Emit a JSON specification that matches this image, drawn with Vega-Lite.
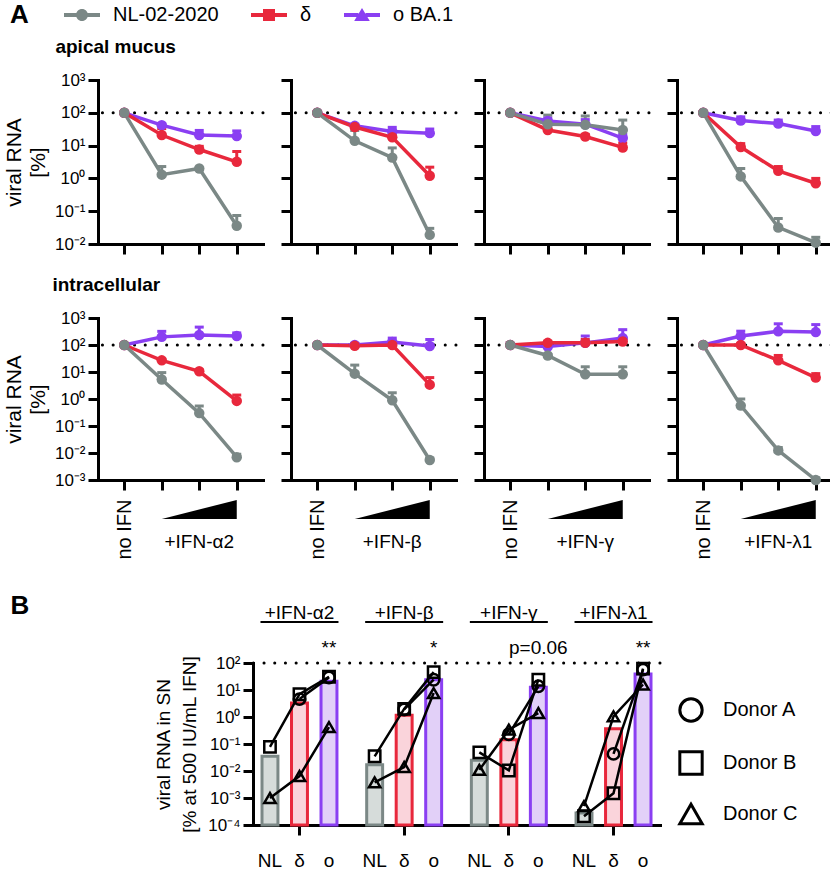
{
"$schema":"https://vega.github.io/schema/vega-lite/v6.json",
"padding":{"left":3,"top":5,"right":0,"bottom":0},
"config":{"font":"Liberation Sans","view":{"stroke":null},
"axis":{"grid":false,"domainColor":"black","domainWidth":3,"domainCap":"square","tickColor":"black","tickWidth":3,"tickSize":10,"labelColor":"black","labelFontSize":17,"labelPadding":3,"titleColor":"black","titleFontWeight":"normal","titleFontSize":21,"titleLineHeight":24,"titlePadding":6},
"legend":{"labelColor":"black","titleColor":"black","padding":0},
"title":{"color":"black"},"text":{"color":"black"}},
"datasets":{
"lines":[
{"c":"ap","i":"α2","d":0,"v":"o BA.1","m":100,"hi":100},{"c":"ap","i":"α2","d":1,"v":"o BA.1","m":42,"hi":46},{"c":"ap","i":"α2","d":2,"v":"o BA.1","m":21,"hi":29},{"c":"ap","i":"α2","d":3,"v":"o BA.1","m":19.5,"hi":28},
{"c":"ap","i":"α2","d":0,"v":"δ","m":100,"hi":100},{"c":"ap","i":"α2","d":1,"v":"δ","m":21,"hi":33},{"c":"ap","i":"α2","d":2,"v":"δ","m":7.6,"hi":9.5},{"c":"ap","i":"α2","d":3,"v":"δ","m":3.2,"hi":6.6},
{"c":"ap","i":"α2","d":0,"v":"NL-02-2020","m":100,"hi":100},{"c":"ap","i":"α2","d":1,"v":"NL-02-2020","m":1.3,"hi":2.3},{"c":"ap","i":"α2","d":2,"v":"NL-02-2020","m":2.0,"hi":2.0},{"c":"ap","i":"α2","d":3,"v":"NL-02-2020","m":0.036,"hi":0.074},
{"c":"ap","i":"β","d":0,"v":"o BA.1","m":100,"hi":100},{"c":"ap","i":"β","d":1,"v":"o BA.1","m":40,"hi":44},{"c":"ap","i":"β","d":2,"v":"o BA.1","m":27,"hi":36},{"c":"ap","i":"β","d":3,"v":"o BA.1","m":24,"hi":32},
{"c":"ap","i":"β","d":0,"v":"δ","m":100,"hi":100},{"c":"ap","i":"β","d":1,"v":"δ","m":37,"hi":40},{"c":"ap","i":"β","d":2,"v":"δ","m":18,"hi":21},{"c":"ap","i":"β","d":3,"v":"δ","m":1.2,"hi":2.2},
{"c":"ap","i":"β","d":0,"v":"NL-02-2020","m":100,"hi":100},{"c":"ap","i":"β","d":1,"v":"NL-02-2020","m":14,"hi":29},{"c":"ap","i":"β","d":2,"v":"NL-02-2020","m":4.3,"hi":8.5},{"c":"ap","i":"β","d":3,"v":"NL-02-2020","m":0.019,"hi":0.03},
{"c":"ap","i":"γ","d":0,"v":"o BA.1","m":100,"hi":100},{"c":"ap","i":"γ","d":1,"v":"o BA.1","m":56,"hi":70},{"c":"ap","i":"γ","d":2,"v":"o BA.1","m":45,"hi":62},{"c":"ap","i":"γ","d":3,"v":"o BA.1","m":17,"hi":22},
{"c":"ap","i":"γ","d":0,"v":"δ","m":100,"hi":100},{"c":"ap","i":"γ","d":1,"v":"δ","m":30,"hi":34},{"c":"ap","i":"γ","d":2,"v":"δ","m":19,"hi":22},{"c":"ap","i":"γ","d":3,"v":"δ","m":8.8,"hi":12},
{"c":"ap","i":"γ","d":0,"v":"NL-02-2020","m":100,"hi":100},{"c":"ap","i":"γ","d":1,"v":"NL-02-2020","m":45,"hi":85},{"c":"ap","i":"γ","d":2,"v":"NL-02-2020","m":43,"hi":80},{"c":"ap","i":"γ","d":3,"v":"NL-02-2020","m":30,"hi":60},
{"c":"ap","i":"λ1","d":0,"v":"o BA.1","m":100,"hi":100},{"c":"ap","i":"λ1","d":1,"v":"o BA.1","m":58,"hi":75},{"c":"ap","i":"λ1","d":2,"v":"o BA.1","m":47,"hi":60},{"c":"ap","i":"λ1","d":3,"v":"o BA.1","m":28,"hi":38},
{"c":"ap","i":"λ1","d":0,"v":"δ","m":100,"hi":100},{"c":"ap","i":"λ1","d":1,"v":"δ","m":9,"hi":11.5},{"c":"ap","i":"λ1","d":2,"v":"δ","m":1.7,"hi":2.3},{"c":"ap","i":"λ1","d":3,"v":"δ","m":0.71,"hi":1.0},
{"c":"ap","i":"λ1","d":0,"v":"NL-02-2020","m":100,"hi":100},{"c":"ap","i":"λ1","d":1,"v":"NL-02-2020","m":1.15,"hi":2.0},{"c":"ap","i":"λ1","d":2,"v":"NL-02-2020","m":0.032,"hi":0.06},{"c":"ap","i":"λ1","d":3,"v":"NL-02-2020","m":0.011,"hi":0.016},
{"c":"in","i":"α2","d":0,"v":"o BA.1","m":100,"hi":100},{"c":"in","i":"α2","d":1,"v":"o BA.1","m":200,"hi":320},{"c":"in","i":"α2","d":2,"v":"o BA.1","m":235,"hi":460},{"c":"in","i":"α2","d":3,"v":"o BA.1","m":215,"hi":280},
{"c":"in","i":"α2","d":0,"v":"δ","m":100,"hi":100},{"c":"in","i":"α2","d":1,"v":"δ","m":27,"hi":30},{"c":"in","i":"α2","d":2,"v":"δ","m":10.6,"hi":12},{"c":"in","i":"α2","d":3,"v":"δ","m":0.85,"hi":1.4},
{"c":"in","i":"α2","d":0,"v":"NL-02-2020","m":100,"hi":100},{"c":"in","i":"α2","d":1,"v":"NL-02-2020","m":5.3,"hi":9.5},{"c":"in","i":"α2","d":2,"v":"NL-02-2020","m":0.3,"hi":0.55},{"c":"in","i":"α2","d":3,"v":"NL-02-2020","m":0.007,"hi":0.009},
{"c":"in","i":"β","d":0,"v":"o BA.1","m":100,"hi":100},{"c":"in","i":"β","d":1,"v":"o BA.1","m":100,"hi":115},{"c":"in","i":"β","d":2,"v":"o BA.1","m":130,"hi":180},{"c":"in","i":"β","d":3,"v":"o BA.1","m":92,"hi":160},
{"c":"in","i":"β","d":0,"v":"δ","m":100,"hi":100},{"c":"in","i":"β","d":1,"v":"δ","m":93,"hi":110},{"c":"in","i":"β","d":2,"v":"δ","m":100,"hi":130},{"c":"in","i":"β","d":3,"v":"δ","m":3.4,"hi":6.2},
{"c":"in","i":"β","d":0,"v":"NL-02-2020","m":100,"hi":100},{"c":"in","i":"β","d":1,"v":"NL-02-2020","m":8.7,"hi":18},{"c":"in","i":"β","d":2,"v":"NL-02-2020","m":0.9,"hi":1.7},{"c":"in","i":"β","d":3,"v":"NL-02-2020","m":0.0055,"hi":0.0065},
{"c":"in","i":"γ","d":0,"v":"o BA.1","m":100,"hi":100},{"c":"in","i":"γ","d":1,"v":"o BA.1","m":88,"hi":100},{"c":"in","i":"γ","d":2,"v":"o BA.1","m":120,"hi":215},{"c":"in","i":"γ","d":3,"v":"o BA.1","m":180,"hi":370},
{"c":"in","i":"γ","d":0,"v":"δ","m":100,"hi":100},{"c":"in","i":"γ","d":1,"v":"δ","m":120,"hi":135},{"c":"in","i":"γ","d":2,"v":"δ","m":122,"hi":160},{"c":"in","i":"γ","d":3,"v":"δ","m":135,"hi":170},
{"c":"in","i":"γ","d":0,"v":"NL-02-2020","m":100,"hi":100},{"c":"in","i":"γ","d":1,"v":"NL-02-2020","m":41,"hi":45},{"c":"in","i":"γ","d":2,"v":"NL-02-2020","m":8.2,"hi":15.6},{"c":"in","i":"γ","d":3,"v":"NL-02-2020","m":8.2,"hi":15.6},
{"c":"in","i":"λ1","d":0,"v":"o BA.1","m":100,"hi":100},{"c":"in","i":"λ1","d":1,"v":"o BA.1","m":215,"hi":325},{"c":"in","i":"λ1","d":2,"v":"o BA.1","m":320,"hi":610},{"c":"in","i":"λ1","d":3,"v":"o BA.1","m":300,"hi":570},
{"c":"in","i":"λ1","d":0,"v":"δ","m":100,"hi":100},{"c":"in","i":"λ1","d":1,"v":"δ","m":100,"hi":115},{"c":"in","i":"λ1","d":2,"v":"δ","m":27,"hi":41},{"c":"in","i":"λ1","d":3,"v":"δ","m":6.2,"hi":8.7},
{"c":"in","i":"λ1","d":0,"v":"NL-02-2020","m":100,"hi":100},{"c":"in","i":"λ1","d":1,"v":"NL-02-2020","m":0.57,"hi":1.0},{"c":"in","i":"λ1","d":2,"v":"NL-02-2020","m":0.0125,"hi":0.016},{"c":"in","i":"λ1","d":3,"v":"NL-02-2020","m":0.001,"hi":0.0012}
],
"bars":[
{"ifn":"α2","variant":"NL","mean":0.035},{"ifn":"α2","variant":"δ","mean":3.3},{"ifn":"α2","variant":"o","mean":21},
{"ifn":"β","variant":"NL","mean":0.017},{"ifn":"β","variant":"δ","mean":1.15},{"ifn":"β","variant":"o","mean":24},
{"ifn":"γ","variant":"NL","mean":0.025},{"ifn":"γ","variant":"δ","mean":0.145},{"ifn":"γ","variant":"o","mean":12.6},
{"ifn":"λ1","variant":"NL","mean":0.00028},{"ifn":"λ1","variant":"δ","mean":0.37},{"ifn":"λ1","variant":"o","mean":39}
],
"groups":[
{"ifn":"α2","header":"+IFN-α2","sig":"**","at":"o"},{"ifn":"β","header":"+IFN-β","sig":"*","at":"o"},
{"ifn":"γ","header":"+IFN-γ","sig":"p=0.06","at":"o"},{"ifn":"λ1","header":"+IFN-λ1","sig":"**","at":"o"}
],
"donors":[
{"ifn":"α2","donor":"Donor A","variant":"δ","v":4.6},{"ifn":"α2","donor":"Donor A","variant":"o","v":29},
{"ifn":"α2","donor":"Donor B","variant":"NL","v":0.078},{"ifn":"α2","donor":"Donor B","variant":"δ","v":7},{"ifn":"α2","donor":"Donor B","variant":"o","v":31},
{"ifn":"α2","donor":"Donor C","variant":"NL","v":0.001},{"ifn":"α2","donor":"Donor C","variant":"δ","v":0.0065},{"ifn":"α2","donor":"Donor C","variant":"o","v":0.42},
{"ifn":"β","donor":"Donor A","variant":"δ","v":1.9},{"ifn":"β","donor":"Donor A","variant":"o","v":24},
{"ifn":"β","donor":"Donor B","variant":"NL","v":0.035},{"ifn":"β","donor":"Donor B","variant":"δ","v":2.0},{"ifn":"β","donor":"Donor B","variant":"o","v":46},
{"ifn":"β","donor":"Donor C","variant":"NL","v":0.0038},{"ifn":"β","donor":"Donor C","variant":"δ","v":0.014},{"ifn":"β","donor":"Donor C","variant":"o","v":7.7},
{"ifn":"γ","donor":"Donor A","variant":"δ","v":0.23},{"ifn":"γ","donor":"Donor A","variant":"o","v":13.7},
{"ifn":"γ","donor":"Donor B","variant":"NL","v":0.049},{"ifn":"γ","donor":"Donor B","variant":"δ","v":0.0105},{"ifn":"γ","donor":"Donor B","variant":"o","v":24},
{"ifn":"γ","donor":"Donor C","variant":"NL","v":0.011},{"ifn":"γ","donor":"Donor C","variant":"δ","v":0.34},{"ifn":"γ","donor":"Donor C","variant":"o","v":1.4},
{"ifn":"λ1","donor":"Donor A","variant":"δ","v":0.043},{"ifn":"λ1","donor":"Donor A","variant":"o","v":57},
{"ifn":"λ1","donor":"Donor B","variant":"NL","v":0.00021},{"ifn":"λ1","donor":"Donor B","variant":"δ","v":0.0015},{"ifn":"λ1","donor":"Donor B","variant":"o","v":62},
{"ifn":"λ1","donor":"Donor C","variant":"NL","v":0.0005},{"ifn":"λ1","donor":"Donor C","variant":"δ","v":1.05},{"ifn":"λ1","donor":"Donor C","variant":"o","v":16}
]
},
"resolve":{"scale":{"color":"independent","shape":"independent","fill":"independent","stroke":"independent"}},
"spacing":32,
"vconcat":[
{"spacing":10,"resolve":{"scale":{"color":"independent","shape":"independent"}},"vconcat":[
{"width":700,"height":20,"data":{"values":[{"v":"NL-02-2020"},{"v":"δ"},{"v":"o BA.1"}]},"mark":{"type":"point","filled":true,"opacity":0},
"encoding":{
"color":{"field":"v","type":"nominal","scale":{"domain":["NL-02-2020","δ","o BA.1"],"range":["#7b8886","#e8283c","#8a3ff2"]},"legend":{"title":"A","orient":"none","legendX":-88,"legendY":0,"direction":"horizontal","titleOrient":"left","titleFontSize":26,"titleFontWeight":"bold","titlePadding":43,"labelFontSize":20,"symbolSize":144,"labelOffset":21,"columnPadding":32,"symbolOpacity":1,"symbolStrokeWidth":0}},
"shape":{"field":"v","type":"nominal","scale":{"domain":["NL-02-2020","δ","o BA.1"],"range":["M-3,-0.33H-0.9V0.33H-3Z M0.9,-0.33H3V0.33H0.9Z M1,0A1,1,0,1,1,-1,0A1,1,0,1,1,1,0Z","M-3,-0.33H-1V0.33H-3Z M1,-0.33H3V0.33H1Z M-1,-1H1V1H-1Z","M-3,-0.33H-0.6V0.33H-3Z M0.6,-0.33H3V0.33H0.6Z M0,-1.15L1.3,1H-1.3Z"]},"legend":{"title":"A","orient":"none","legendX":-88,"legendY":0,"direction":"horizontal","titleOrient":"left","titleFontSize":26,"titleFontWeight":"bold","titlePadding":43,"labelFontSize":20,"symbolSize":144,"labelOffset":21,"columnPadding":32,"symbolOpacity":1,"symbolStrokeWidth":0}}}},
{"spacing":20,"vconcat":[
{"title":{"text":"apical mucus","anchor":"start","fontSize":19,"fontWeight":"bold","offset":14,"dx":52},
"spacing":14,
"hconcat":[
{"width":165,"height":164,"layer":[
{"data":{"values":[{}]},"mark":{"type":"rule","strokeDash":[0.1,10.6],"strokeCap":"round","strokeWidth":3,"color":"black"},"encoding":{"y":{"datum":100,"type":"quantitative","scale":{"type":"log","domain":[0.01,1000]},"axis":{"values":[0.01,0.1,1,10,100,1000],"labelExpr":"'10' + (round(log(datum.value)/LN10) < 0 ? '⁻' : '') + ['⁰','¹','²','³','⁴'][abs(round(log(datum.value)/LN10))]","title":["viral RNA","[%]"]}}}},
{"data":{"name":"lines"},"transform":[{"filter":"datum.c=='ap' && datum.i=='α2'"}],
"encoding":{"x":{"field":"d","type":"quantitative","scale":{"domain":[-0.7,3.7],"nice":false,"zero":false},"axis":{"values":[0,1,2,3],"labels":false,"title":null}},"y":{"field":"m","type":"quantitative"}},
"layer":[
{"mark":{"type":"rule","strokeWidth":3},"encoding":{"y2":{"field":"hi"},"stroke":{"field":"v","type":"nominal","scale":{"domain":["NL-02-2020","δ","o BA.1"],"range":["#7b8886","#e8283c","#8a3ff2"]},"legend":null}}},
{"mark":{"type":"tick","orient":"horizontal","size":9,"thickness":3,"opacity":1},"encoding":{"y":{"field":"hi","type":"quantitative"},"fill":{"field":"v","type":"nominal","scale":{"domain":["NL-02-2020","δ","o BA.1"],"range":["#7b8886","#e8283c","#8a3ff2"]},"legend":null}}},
{"mark":{"type":"line","strokeWidth":3.5},"encoding":{"stroke":{"field":"v","type":"nominal","legend":null}}},
{"mark":{"type":"point","filled":true,"shape":"circle","size":110,"opacity":1},"encoding":{"fill":{"field":"v","type":"nominal","legend":null}}}
]}
]},
{"width":165,"height":164,"layer":[
{"data":{"values":[{}]},"mark":{"type":"rule","strokeDash":[0.1,10.6],"strokeCap":"round","strokeWidth":3,"color":"black"},"encoding":{"y":{"datum":100,"type":"quantitative","scale":{"type":"log","domain":[0.01,1000]},"axis":{"values":[0.01,0.1,1,10,100,1000],"labels":false,"title":null}}}},
{"data":{"name":"lines"},"transform":[{"filter":"datum.c=='ap' && datum.i=='β'"}],
"encoding":{"x":{"field":"d","type":"quantitative","scale":{"domain":[-0.7,3.7],"nice":false,"zero":false},"axis":{"values":[0,1,2,3],"labels":false,"title":null}},"y":{"field":"m","type":"quantitative"}},
"layer":[
{"mark":{"type":"rule","strokeWidth":3},"encoding":{"y2":{"field":"hi"},"stroke":{"field":"v","type":"nominal","legend":null}}},
{"mark":{"type":"tick","orient":"horizontal","size":9,"thickness":3,"opacity":1},"encoding":{"y":{"field":"hi","type":"quantitative"},"fill":{"field":"v","type":"nominal","legend":null}}},
{"mark":{"type":"line","strokeWidth":3.5},"encoding":{"stroke":{"field":"v","type":"nominal","legend":null}}},
{"mark":{"type":"point","filled":true,"shape":"circle","size":110,"opacity":1},"encoding":{"fill":{"field":"v","type":"nominal","legend":null}}}
]}
]},
{"width":165,"height":164,"layer":[
{"data":{"values":[{}]},"mark":{"type":"rule","strokeDash":[0.1,10.6],"strokeCap":"round","strokeWidth":3,"color":"black"},"encoding":{"y":{"datum":100,"type":"quantitative","scale":{"type":"log","domain":[0.01,1000]},"axis":{"values":[0.01,0.1,1,10,100,1000],"labels":false,"title":null}}}},
{"data":{"name":"lines"},"transform":[{"filter":"datum.c=='ap' && datum.i=='γ'"}],
"encoding":{"x":{"field":"d","type":"quantitative","scale":{"domain":[-0.7,3.7],"nice":false,"zero":false},"axis":{"values":[0,1,2,3],"labels":false,"title":null}},"y":{"field":"m","type":"quantitative"}},
"layer":[
{"mark":{"type":"rule","strokeWidth":3},"encoding":{"y2":{"field":"hi"},"stroke":{"field":"v","type":"nominal","legend":null}}},
{"mark":{"type":"tick","orient":"horizontal","size":9,"thickness":3,"opacity":1},"encoding":{"y":{"field":"hi","type":"quantitative"},"fill":{"field":"v","type":"nominal","legend":null}}},
{"mark":{"type":"line","strokeWidth":3.5},"encoding":{"stroke":{"field":"v","type":"nominal","legend":null}}},
{"mark":{"type":"point","filled":true,"shape":"circle","size":110,"opacity":1},"encoding":{"fill":{"field":"v","type":"nominal","legend":null}}}
]}
]},
{"width":165,"height":164,"layer":[
{"data":{"values":[{}]},"mark":{"type":"rule","strokeDash":[0.1,10.6],"strokeCap":"round","strokeWidth":3,"color":"black"},"encoding":{"y":{"datum":100,"type":"quantitative","scale":{"type":"log","domain":[0.01,1000]},"axis":{"values":[0.01,0.1,1,10,100,1000],"labels":false,"title":null}}}},
{"data":{"name":"lines"},"transform":[{"filter":"datum.c=='ap' && datum.i=='λ1'"}],
"encoding":{"x":{"field":"d","type":"quantitative","scale":{"domain":[-0.7,3.7],"nice":false,"zero":false},"axis":{"values":[0,1,2,3],"labels":false,"title":null}},"y":{"field":"m","type":"quantitative"}},
"layer":[
{"mark":{"type":"rule","strokeWidth":3},"encoding":{"y2":{"field":"hi"},"stroke":{"field":"v","type":"nominal","legend":null}}},
{"mark":{"type":"tick","orient":"horizontal","size":9,"thickness":3,"opacity":1},"encoding":{"y":{"field":"hi","type":"quantitative"},"fill":{"field":"v","type":"nominal","legend":null}}},
{"mark":{"type":"line","strokeWidth":3.5},"encoding":{"stroke":{"field":"v","type":"nominal","legend":null}}},
{"mark":{"type":"point","filled":true,"shape":"circle","size":110,"opacity":1},"encoding":{"fill":{"field":"v","type":"nominal","legend":null}}}
]}
]}
]},
{"title":{"text":"intracellular","anchor":"start","fontSize":19,"fontWeight":"bold","offset":14,"dx":49},
"spacing":14,
"hconcat":[
{"width":165,"height":162,"layer":[
{"data":{"values":[{}]},"mark":{"type":"rule","strokeDash":[0.1,10.6],"strokeCap":"round","strokeWidth":3,"color":"black"},"encoding":{"y":{"datum":100,"type":"quantitative","scale":{"type":"log","domain":[0.001,1000]},"axis":{"values":[0.001,0.01,0.1,1,10,100,1000],"labelExpr":"'10' + (round(log(datum.value)/LN10) < 0 ? '⁻' : '') + ['⁰','¹','²','³','⁴'][abs(round(log(datum.value)/LN10))]","title":["viral RNA","[%]"]}}}},
{"data":{"name":"lines"},"transform":[{"filter":"datum.c=='in' && datum.i=='α2'"}],
"encoding":{"x":{"field":"d","type":"quantitative","scale":{"domain":[-0.7,3.7],"nice":false,"zero":false},"axis":{"values":[0,1,2,3],"labelExpr":"datum.value == 0 ? 'no IFN' : ''","labelAngle":-90,"labelFontSize":20,"labelPadding":9,"labelFlush":false,"title":null}},"y":{"field":"m","type":"quantitative"}},
"layer":[
{"mark":{"type":"rule","strokeWidth":3},"encoding":{"y2":{"field":"hi"},"stroke":{"field":"v","type":"nominal","legend":null}}},
{"mark":{"type":"tick","orient":"horizontal","size":9,"thickness":3,"opacity":1},"encoding":{"y":{"field":"hi","type":"quantitative"},"fill":{"field":"v","type":"nominal","legend":null}}},
{"mark":{"type":"line","strokeWidth":3.5},"encoding":{"stroke":{"field":"v","type":"nominal","legend":null}}},
{"mark":{"type":"point","filled":true,"shape":"circle","size":110,"opacity":1},"encoding":{"fill":{"field":"v","type":"nominal","legend":null}}}
]},
{"data":{"values":[{}]},"mark":{"type":"point","shape":"M-1,0.253L1,0.253L1,-0.253Z","size":5625,"filled":true,"color":"black","opacity":1,"strokeWidth":0},"encoding":{"x":{"datum":2,"type":"quantitative"},"y":{"datum":0.000081,"type":"quantitative"}}},
{"data":{"values":[{}]},"mark":{"type":"text","fontSize":19,"color":"black","baseline":"middle"},"encoding":{"x":{"datum":2,"type":"quantitative"},"y":{"datum":0.000005,"type":"quantitative"},"text":{"value":"+IFN-α2"}}}
]},
{"width":165,"height":162,"layer":[
{"data":{"values":[{}]},"mark":{"type":"rule","strokeDash":[0.1,10.6],"strokeCap":"round","strokeWidth":3,"color":"black"},"encoding":{"y":{"datum":100,"type":"quantitative","scale":{"type":"log","domain":[0.001,1000]},"axis":{"values":[0.001,0.01,0.1,1,10,100,1000],"labels":false,"title":null}}}},
{"data":{"name":"lines"},"transform":[{"filter":"datum.c=='in' && datum.i=='β'"}],
"encoding":{"x":{"field":"d","type":"quantitative","scale":{"domain":[-0.7,3.7],"nice":false,"zero":false},"axis":{"values":[0,1,2,3],"labelExpr":"datum.value == 0 ? 'no IFN' : ''","labelAngle":-90,"labelFontSize":20,"labelPadding":9,"labelFlush":false,"title":null}},"y":{"field":"m","type":"quantitative"}},
"layer":[
{"mark":{"type":"rule","strokeWidth":3},"encoding":{"y2":{"field":"hi"},"stroke":{"field":"v","type":"nominal","legend":null}}},
{"mark":{"type":"tick","orient":"horizontal","size":9,"thickness":3,"opacity":1},"encoding":{"y":{"field":"hi","type":"quantitative"},"fill":{"field":"v","type":"nominal","legend":null}}},
{"mark":{"type":"line","strokeWidth":3.5},"encoding":{"stroke":{"field":"v","type":"nominal","legend":null}}},
{"mark":{"type":"point","filled":true,"shape":"circle","size":110,"opacity":1},"encoding":{"fill":{"field":"v","type":"nominal","legend":null}}}
]},
{"data":{"values":[{}]},"mark":{"type":"point","shape":"M-1,0.253L1,0.253L1,-0.253Z","size":5625,"filled":true,"color":"black","opacity":1,"strokeWidth":0},"encoding":{"x":{"datum":2,"type":"quantitative"},"y":{"datum":0.000081,"type":"quantitative"}}},
{"data":{"values":[{}]},"mark":{"type":"text","fontSize":19,"color":"black","baseline":"middle"},"encoding":{"x":{"datum":2,"type":"quantitative"},"y":{"datum":0.000005,"type":"quantitative"},"text":{"value":"+IFN-β"}}}
]},
{"width":165,"height":162,"layer":[
{"data":{"values":[{}]},"mark":{"type":"rule","strokeDash":[0.1,10.6],"strokeCap":"round","strokeWidth":3,"color":"black"},"encoding":{"y":{"datum":100,"type":"quantitative","scale":{"type":"log","domain":[0.001,1000]},"axis":{"values":[0.001,0.01,0.1,1,10,100,1000],"labels":false,"title":null}}}},
{"data":{"name":"lines"},"transform":[{"filter":"datum.c=='in' && datum.i=='γ'"}],
"encoding":{"x":{"field":"d","type":"quantitative","scale":{"domain":[-0.7,3.7],"nice":false,"zero":false},"axis":{"values":[0,1,2,3],"labelExpr":"datum.value == 0 ? 'no IFN' : ''","labelAngle":-90,"labelFontSize":20,"labelPadding":9,"labelFlush":false,"title":null}},"y":{"field":"m","type":"quantitative"}},
"layer":[
{"mark":{"type":"rule","strokeWidth":3},"encoding":{"y2":{"field":"hi"},"stroke":{"field":"v","type":"nominal","legend":null}}},
{"mark":{"type":"tick","orient":"horizontal","size":9,"thickness":3,"opacity":1},"encoding":{"y":{"field":"hi","type":"quantitative"},"fill":{"field":"v","type":"nominal","legend":null}}},
{"mark":{"type":"line","strokeWidth":3.5},"encoding":{"stroke":{"field":"v","type":"nominal","legend":null}}},
{"mark":{"type":"point","filled":true,"shape":"circle","size":110,"opacity":1},"encoding":{"fill":{"field":"v","type":"nominal","legend":null}}}
]},
{"data":{"values":[{}]},"mark":{"type":"point","shape":"M-1,0.253L1,0.253L1,-0.253Z","size":5625,"filled":true,"color":"black","opacity":1,"strokeWidth":0},"encoding":{"x":{"datum":2,"type":"quantitative"},"y":{"datum":0.000081,"type":"quantitative"}}},
{"data":{"values":[{}]},"mark":{"type":"text","fontSize":19,"color":"black","baseline":"middle"},"encoding":{"x":{"datum":2,"type":"quantitative"},"y":{"datum":0.000005,"type":"quantitative"},"text":{"value":"+IFN-γ"}}}
]},
{"width":165,"height":162,"layer":[
{"data":{"values":[{}]},"mark":{"type":"rule","strokeDash":[0.1,10.6],"strokeCap":"round","strokeWidth":3,"color":"black"},"encoding":{"y":{"datum":100,"type":"quantitative","scale":{"type":"log","domain":[0.001,1000]},"axis":{"values":[0.001,0.01,0.1,1,10,100,1000],"labels":false,"title":null}}}},
{"data":{"name":"lines"},"transform":[{"filter":"datum.c=='in' && datum.i=='λ1'"}],
"encoding":{"x":{"field":"d","type":"quantitative","scale":{"domain":[-0.7,3.7],"nice":false,"zero":false},"axis":{"values":[0,1,2,3],"labelExpr":"datum.value == 0 ? 'no IFN' : ''","labelAngle":-90,"labelFontSize":20,"labelPadding":9,"labelFlush":false,"title":null}},"y":{"field":"m","type":"quantitative"}},
"layer":[
{"mark":{"type":"rule","strokeWidth":3},"encoding":{"y2":{"field":"hi"},"stroke":{"field":"v","type":"nominal","legend":null}}},
{"mark":{"type":"tick","orient":"horizontal","size":9,"thickness":3,"opacity":1},"encoding":{"y":{"field":"hi","type":"quantitative"},"fill":{"field":"v","type":"nominal","legend":null}}},
{"mark":{"type":"line","strokeWidth":3.5},"encoding":{"stroke":{"field":"v","type":"nominal","legend":null}}},
{"mark":{"type":"point","filled":true,"shape":"circle","size":110,"opacity":1},"encoding":{"fill":{"field":"v","type":"nominal","legend":null}}}
]},
{"data":{"values":[{}]},"mark":{"type":"point","shape":"M-1,0.253L1,0.253L1,-0.253Z","size":5625,"filled":true,"color":"black","opacity":1,"strokeWidth":0},"encoding":{"x":{"datum":2,"type":"quantitative"},"y":{"datum":0.000081,"type":"quantitative"}}},
{"data":{"values":[{}]},"mark":{"type":"text","fontSize":19,"color":"black","baseline":"middle"},"encoding":{"x":{"datum":2,"type":"quantitative"},"y":{"datum":0.000005,"type":"quantitative"},"text":{"value":"+IFN-λ1"}}}
]}
]}
]}
]},
{"spacing":0,"resolve":{"scale":{"shape":"independent"}},"hconcat":[
{"width":56,"height":162,"data":{"values":[{}]},"mark":{"type":"rule","opacity":0},"encoding":{"y":{"datum":0,"type":"quantitative","axis":{"title":"B","titleAngle":0,"titleX":-88,"titleY":-58,"titleAlign":"left","titleBaseline":"middle","titleFontSize":26,"titleFontWeight":"bold","domain":false,"ticks":false,"labels":false}}}},
{"width":407,"height":162,
"layer":[
{"data":{"values":[{}]},"mark":{"type":"rule","strokeDash":[0.1,10.6],"strokeCap":"round","strokeWidth":3,"color":"black"},"encoding":{"y":{"datum":100,"type":"quantitative","scale":{"type":"log","domain":[0.0001,100]},"axis":{"values":[0.0001,0.001,0.01,0.1,1,10,100],"labelExpr":"'10' + (round(log(datum.value)/LN10) < 0 ? '⁻' : '') + ['⁰','¹','²','³','⁴'][abs(round(log(datum.value)/LN10))]","title":["viral RNA in SN","[% at 500 IU/mL IFN]"],"titleFontSize":19,"titleLineHeight":26,"titlePadding":8}}}},
{"data":{"name":"bars"},"mark":{"type":"bar","strokeWidth":3},"encoding":{
"x":{"field":"ifn","type":"nominal","scale":{"domain":["α2","β","γ","λ1"],"paddingInner":0.284,"paddingOuter":0.086},"axis":{"labels":false,"title":null}},
"xOffset":{"field":"variant","type":"nominal","scale":{"domain":["NL","δ","o"],"paddingInner":0.46,"paddingOuter":0}},
"y":{"field":"mean","type":"quantitative"},"y2":{"datum":0.0001},
"fill":{"field":"variant","type":"nominal","scale":{"domain":["NL","δ","o"],"range":["#d6dcda","#fad4db","#e2d0f8"]},"legend":null},
"stroke":{"field":"variant","type":"nominal","scale":{"domain":["NL","δ","o"],"range":["#7b8886","#e8283c","#8a3ff2"]},"legend":null}}},
{"data":{"name":"bars"},"mark":{"type":"text","fontSize":19,"color":"black","baseline":"middle"},"encoding":{"x":{"field":"ifn","type":"nominal"},"xOffset":{"field":"variant","type":"nominal"},"y":{"datum":0.0000047,"type":"quantitative"},"text":{"field":"variant"}}},
{"data":{"name":"groups"},"mark":{"type":"text","fontSize":19,"color":"black","baseline":"middle"},"encoding":{"x":{"field":"ifn","type":"nominal"},"y":{"datum":7100,"type":"quantitative"},"text":{"field":"header"}}},
{"data":{"name":"groups"},"mark":{"type":"tick","orient":"horizontal","size":78,"thickness":2,"color":"black","opacity":1},"encoding":{"x":{"field":"ifn","type":"nominal"},"y":{"datum":3300,"type":"quantitative"}}},
{"data":{"name":"groups"},"mark":{"type":"text","fontSize":19,"color":"black","baseline":"middle"},"encoding":{"x":{"field":"ifn","type":"nominal"},"xOffset":{"field":"at","type":"nominal"},"y":{"datum":360,"type":"quantitative"},"text":{"field":"sig"}}},
{"data":{"name":"donors"},"mark":{"type":"line","strokeWidth":2.5,"color":"black"},"encoding":{"x":{"field":"ifn","type":"nominal"},"xOffset":{"field":"variant","type":"nominal"},"y":{"field":"v","type":"quantitative"},"detail":[{"field":"donor"},{"field":"ifn"}],"order":{"value":null}}},
{"data":{"name":"donors"},"mark":{"type":"point","filled":false,"size":130,"strokeWidth":2.5,"color":"black","opacity":1},"encoding":{"x":{"field":"ifn","type":"nominal"},"xOffset":{"field":"variant","type":"nominal"},"y":{"field":"v","type":"quantitative"},
"shape":{"field":"donor","type":"nominal","scale":{"domain":["Donor A","Donor B","Donor C"],"range":["circle","square","triangle-up"]},"legend":{"title":null,"orient":"none","legendX":425,"legendY":34,"symbolSize":500,"symbolStrokeWidth":3,"symbolStrokeColor":"black","symbolFillColor":"transparent","labelFontSize":20,"labelOffset":19,"rowPadding":17}}}}
]}
]}
]
}
